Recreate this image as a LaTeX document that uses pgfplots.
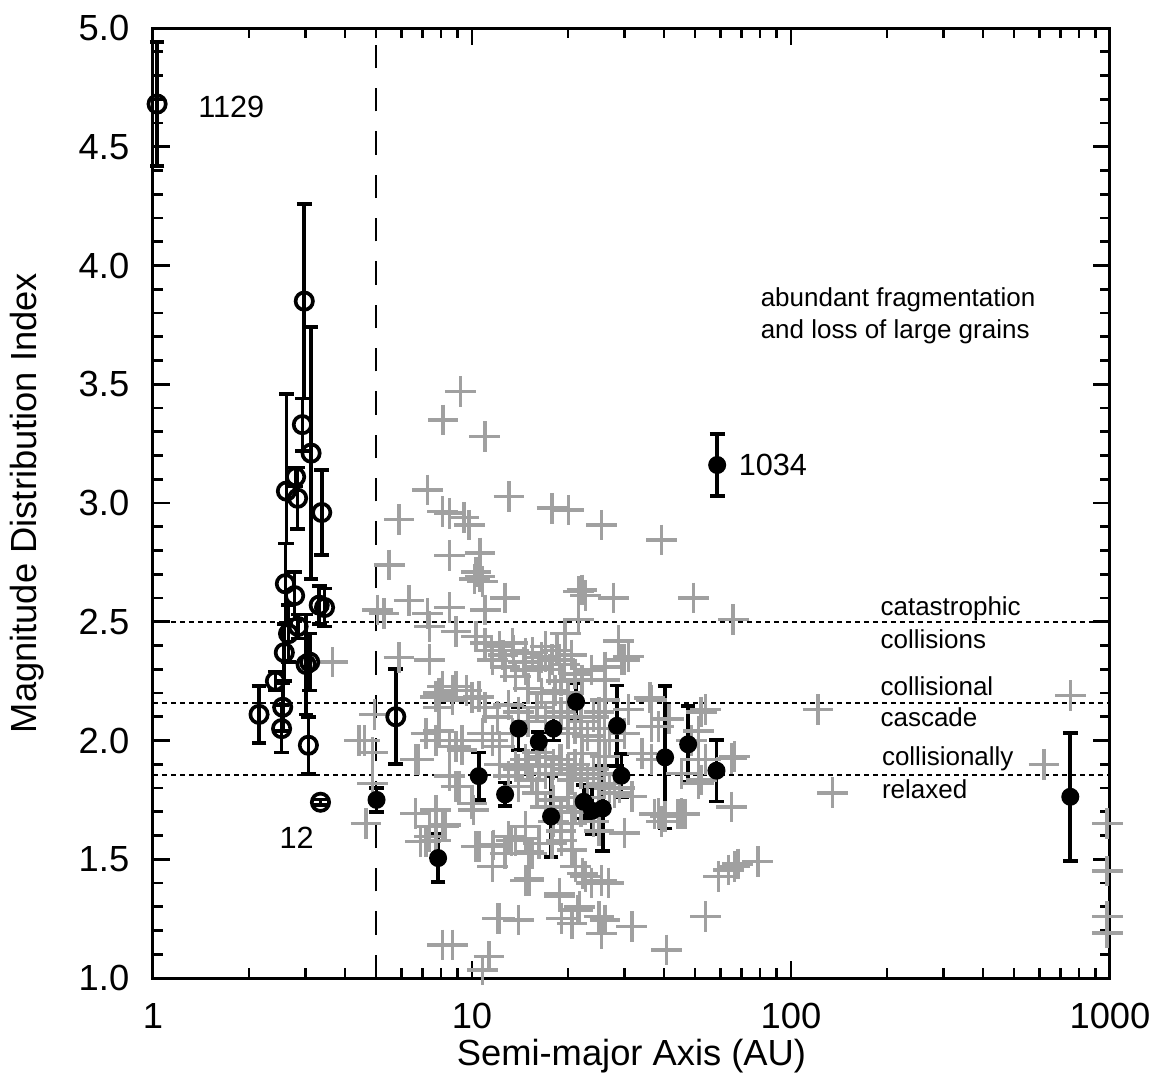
\documentclass[border=0pt]{standalone}
\usepackage{pgfplots}
\pgfplotsset{compat=1.18}
\usepackage{fontspec}
\setmainfont{Liberation Sans}
\definecolor{crossgray}{RGB}{160,160,160}
\begin{document}
\begin{tikzpicture}
\begin{axis}[
  xmode=log, xmin=1, xmax=1000, ymin=1, ymax=5,
  width=287.1pt, height=285pt, scale only axis,
  axis line style={line width=0.9pt},
  tick style={line width=0.8pt, black},
  major tick length=5.2pt, minor tick length=3pt,
  tick align=inside, xtick pos=both, ytick pos=both,
  xtick={1,10,100,1000}, xticklabels={1,10,100,1000},
  ytick={1,1.5,2,2.5,3,3.5,4,4.5,5}, minor y tick num=4,
  yticklabel style={xshift=-3.6pt, /pgf/number format/.cd, fixed, fixed zerofill, precision=1},
  xticklabel style={yshift=-4pt},
  /pgf/number format/assume math mode=true,
  tick label style={font=\fontsize{10.9}{12}\selectfont},
  label style={font=\fontsize{10.9}{12}\selectfont},
  xlabel={Semi-major Axis (AU)}, ylabel={Magnitude Distribution Index},
  xlabel style={at={(axis description cs:0.5,0)}, anchor=center, yshift=-23.4pt},
  ylabel style={at={(axis description cs:0,0.5)}, anchor=center, yshift=37.8pt},
  clip=false,
]
% grey crosses
\addplot[only marks, mark=+, mark size=4.6pt, color=crossgray, mark options={line width=1.05pt}] table {
x y
9.22 3.47
8.12 3.35
10.97 3.28
7.25 3.055
13.05 3.027
5.91 2.93
8.08 2.964
8.49 2.957
9.44 2.94
9.8 2.907
17.8 2.978
20.1 2.97
25.5 2.907
39.3 2.844
5.5 2.739
8.5 2.78
10.6 2.79
10.3 2.71
10.6 2.69
10.8 2.67
10.2 2.68
21.6 2.627
22.7 2.61
22.1 2.634
27.8 2.60
49.4 2.60
65.9 2.51
6.35 2.59
7.25 2.535
5.06 2.55
5.3 2.535
8.5 2.56
11.0 2.55
12.7 2.60
28.8 2.42
3.66 2.33
5.9 2.35
4.95 2.11
4.43 2.0
4.88 1.95
4.88 1.82
4.65 1.65
4.6 2.0
7.35 2.48
8.9 2.458
10.3 2.437
11 2.41
12.2 2.395
13.4 2.41
14.7 2.367
17 2.395
7.35 2.34
11.6 2.34
12.7 2.31
14.7 2.297
13.7 2.27
16.2 2.31
17.8 2.34
8.07 2.227
8.9 2.227
9.6 2.21
7.7 2.184
8.7 2.17
10.5 2.184
7.87 2.14
7.17 2.03
7.87 2.04
8.9 1.974
9.3 2.0
10.8 2.03
11.6 2.0
12.2 1.974
13.4 2.03
6.66 1.92
8.5 1.85
12.2 1.90
13.7 1.89
14.7 1.92
16.2 1.89
17.8 1.86
15.4 1.834
14 1.806
9.1 1.806
10 1.735
6.66 1.693
8.07 1.637
7.35 1.595
11.6 1.553
13.0 1.595
14.7 1.637
15.4 1.525
14.7 1.41
7.87 2.20
8.7 2.21
7.7 2.0
8.5 1.974
9.3 1.96
6.8 1.92
11 2.14
10 2.18
7.35 1.637
8.25 1.644
7.7 1.58
6.9 1.574
10.5 1.553
11.6 1.47
13.3 1.58
14.7 1.588
16.2 1.567
12.7 1.525
15.1 1.42
12.2 1.251
14 1.244
8.07 1.139
8.7 1.139
11.3 1.09
10.8 1.034
18.8 1.343
21.4 1.286
22.2 1.44
23.7 1.40
25.5 1.41
26.1 1.244
25.5 1.188
31.7 1.216
40.7 1.118
53.9 1.258
59.3 1.427
63.7 1.455
30.1 1.61
37.4 1.69
46.5 1.69
39.3 1.66
65 1.72
51.3 1.82
53.9 1.92
48.8 2.0
36.6 2.06
41.4 2.09
53.9 2.13
30.9 2.13
26.1 2.255
30.9 2.353
7.7 1.707
8.17 1.637
7.17 1.574
10.3 1.553
11.7 1.56
10.1 1.707
8.9 1.806
13.7 1.58
15.1 1.53
15.1 1.41
19.1 1.58
20.6 1.54
21.1 1.47
22.7 1.427
26.8 1.40
21.7 1.30
19.1 1.251
20.6 1.23
25 1.258
40.3 1.68
78.7 1.49
66.5 1.47
12 1.25
21.6 2.51
19.6 2.45
17 2.353
18.8 2.34
23.7 2.297
30.1 2.34
26.1 2.31
22.1 2.255
18.2 2.21
26.1 2.17
36.6 2.17
38.5 2.06
30.1 2.03
25 2.0
20 2.03
22.1 1.946
18.8 1.92
26.1 1.932
34.1 1.946
36.6 1.92
51.3 1.92
66.5 1.932
45.3 1.862
52.3 1.834
17 1.862
20.6 1.834
25 1.806
31.7 1.764
38.5 1.693
45.3 1.693
20.6 1.651
17.8 1.567
68.1 1.48
18.8 1.356
29.4 2.34
36.1 2.18
52.3 2.12
51.3 2.04
65 1.925
121.4 2.13
751 2.19
621 1.90
135 1.78
980 1.65
980 1.45
980 1.26
980 1.19
44.3 1.69
11.5 2.38
12.5 2.36
13.5 2.38
14.5 2.33
15.5 2.37
16.5 2.35
17.5 2.3
18.5 2.38
19.5 2.32
20.5 2.36
12 2.1
13 2.15
14 2.12
15 2.08
16 2.14
17 2.1
18 2.16
19 2.12
20 2.1
21 2.05
22 2.08
23 2.02
24 2.1
25 2.12
26 2.05
27 2.0
13 1.85
14 1.88
15 1.9
16 1.95
17 1.93
18 1.9
19 1.92
20 1.88
21 1.9
22 1.86
23 1.84
24 1.88
25 1.86
26 1.82
27 1.8
28 1.78
29 1.8
16 1.78
17 1.72
18 1.75
19 1.7
20 1.76
21 1.72
22 1.7
23 1.76
24 1.66
25 1.62
19 1.62
18 1.66
15 2.22
16.5 2.2
19 2.25
20 2.2
21 2.28
};
% reference lines
\addplot[black, line width=0.65pt, dash pattern=on 7pt off 6pt] coordinates {(5,1) (5,5)};
\addplot[black, line width=0.6pt, dash pattern=on 1.6pt off 1.1pt] coordinates {(1,2.497) (1000,2.497)};
\addplot[black, line width=0.6pt, dash pattern=on 1.6pt off 1.1pt] coordinates {(1,2.16) (1000,2.16)};
\addplot[black, line width=0.6pt, dash pattern=on 1.6pt off 1.1pt] coordinates {(1,1.855) (1000,1.855)};
% open circles
\addplot[only marks, mark=o, black, mark size=2.6pt, mark options={line width=1.1pt},
  error bars/.cd, y dir=both, y explicit,
  error bar style={line width=1.1pt, black},
  error mark options={rotate=90, mark size=2.2pt, line width=1.1pt, black}]
coordinates {
(1.03,4.68) +- (0,0.26)
(2.98,3.85) +- (0,0.41)
(2.94,3.33) +- (0,0.11)
(3.13,3.21) +- (0,0.53)
(2.80,3.11) +- (0,0.04)
(2.62,3.05) += (0,0.41) -= (0,0.22)
(2.84,3.02) +- (0,0.13)
(3.38,2.96) +- (0,0.18)
(2.60,2.66) +- (0,0.17)
(2.78,2.61) +- (0,0.10)
(3.32,2.57) +- (0,0.08)
(3.45,2.56) +- (0,0.08)
(2.66,2.45) +- (0,0.12)
(2.85,2.48) +- (0,0.05)
(2.58,2.37) +- (0,0.12)
(2.42,2.25) +- (0,0.04)
(3.02,2.32) +- (0,0.21)
(3.10,2.33) +- (0,0.12)
(2.15,2.11) +- (0,0.12)
(2.55,2.14) +- (0,0.10)
(2.53,2.05) +- (0,0.10)
(3.07,1.98) +- (0,0.12)
(3.35,1.74) +- (0,0.012)
(5.77,2.10) +- (0,0.20)
};
% filled circles
\addplot[only marks, mark=*, black, mark size=2.5pt,
  error bars/.cd, y dir=both, y explicit,
  error bar style={line width=1.1pt, black},
  error mark options={rotate=90, mark size=2.2pt, line width=1.1pt, black}]
coordinates {
(5.02,1.75) +- (0,0.05)
(7.83,1.505) +- (0,0.10)
(10.5,1.85) +- (0,0.10)
(12.7,1.773) +- (0,0.05)
(14.0,2.05) +- (0,0.09)
(16.2,1.995) +- (0,0.04)
(18.0,2.05) +- (0,0.05)
(17.7,1.68) +- (0,0.17)
(21.2,2.163) +- (0,0.08)
(22.4,1.742) +- (0,0.07)
(23.8,1.704) +- (0,0.10)
(25.7,1.714) +- (0,0.18)
(28.5,2.062) +- (0,0.17)
(29.4,1.852) +- (0,0.09)
(40.3,1.929) +- (0,0.30)
(47.6,1.984) +- (0,0.16)
(58.4,1.873) +- (0,0.13)
(58.7,3.16) +- (0,0.13)
(751,1.763) +- (0,0.27)
};
% annotations
\node[anchor=west, inner sep=0pt, align=left, font=\fontsize{7.8}{9.6}\selectfont] at (axis cs:80,3.79) {abundant fragmentation\\and loss of large grains};
\node[anchor=west, inner sep=0pt, font=\fontsize{7.8}{9.6}\selectfont] at (axis cs:190,2.555) {catastrophic};
\node[anchor=west, inner sep=0pt, font=\fontsize{7.8}{9.6}\selectfont] at (axis cs:190,2.425) {collisions};
\node[anchor=west, inner sep=0pt, font=\fontsize{7.8}{9.6}\selectfont] at (axis cs:190,2.227) {collisional};
\node[anchor=west, inner sep=0pt, font=\fontsize{7.8}{9.6}\selectfont] at (axis cs:190,2.10) {cascade};
\node[anchor=west, inner sep=0pt, font=\fontsize{7.8}{9.6}\selectfont] at (axis cs:192,1.925) {collisionally};
\node[anchor=west, inner sep=0pt, font=\fontsize{7.8}{9.6}\selectfont] at (axis cs:192,1.797) {relaxed};
\node[anchor=west, inner sep=0pt, font=\fontsize{9.2}{11}\selectfont] at (axis cs:1.38,4.667) {1129};
\node[anchor=west, inner sep=0pt, font=\fontsize{9.2}{11}\selectfont] at (axis cs:68.3,3.16) {1034};
\node[inner sep=0pt, font=\fontsize{9.2}{11}\selectfont] at (axis cs:2.82,1.59) {12};
\end{axis}
\pgfresetboundingbox
\useasboundingbox (-45.9pt,-31.2pt) rectangle (300.3pt,293.4pt);
\end{tikzpicture}
\end{document}
